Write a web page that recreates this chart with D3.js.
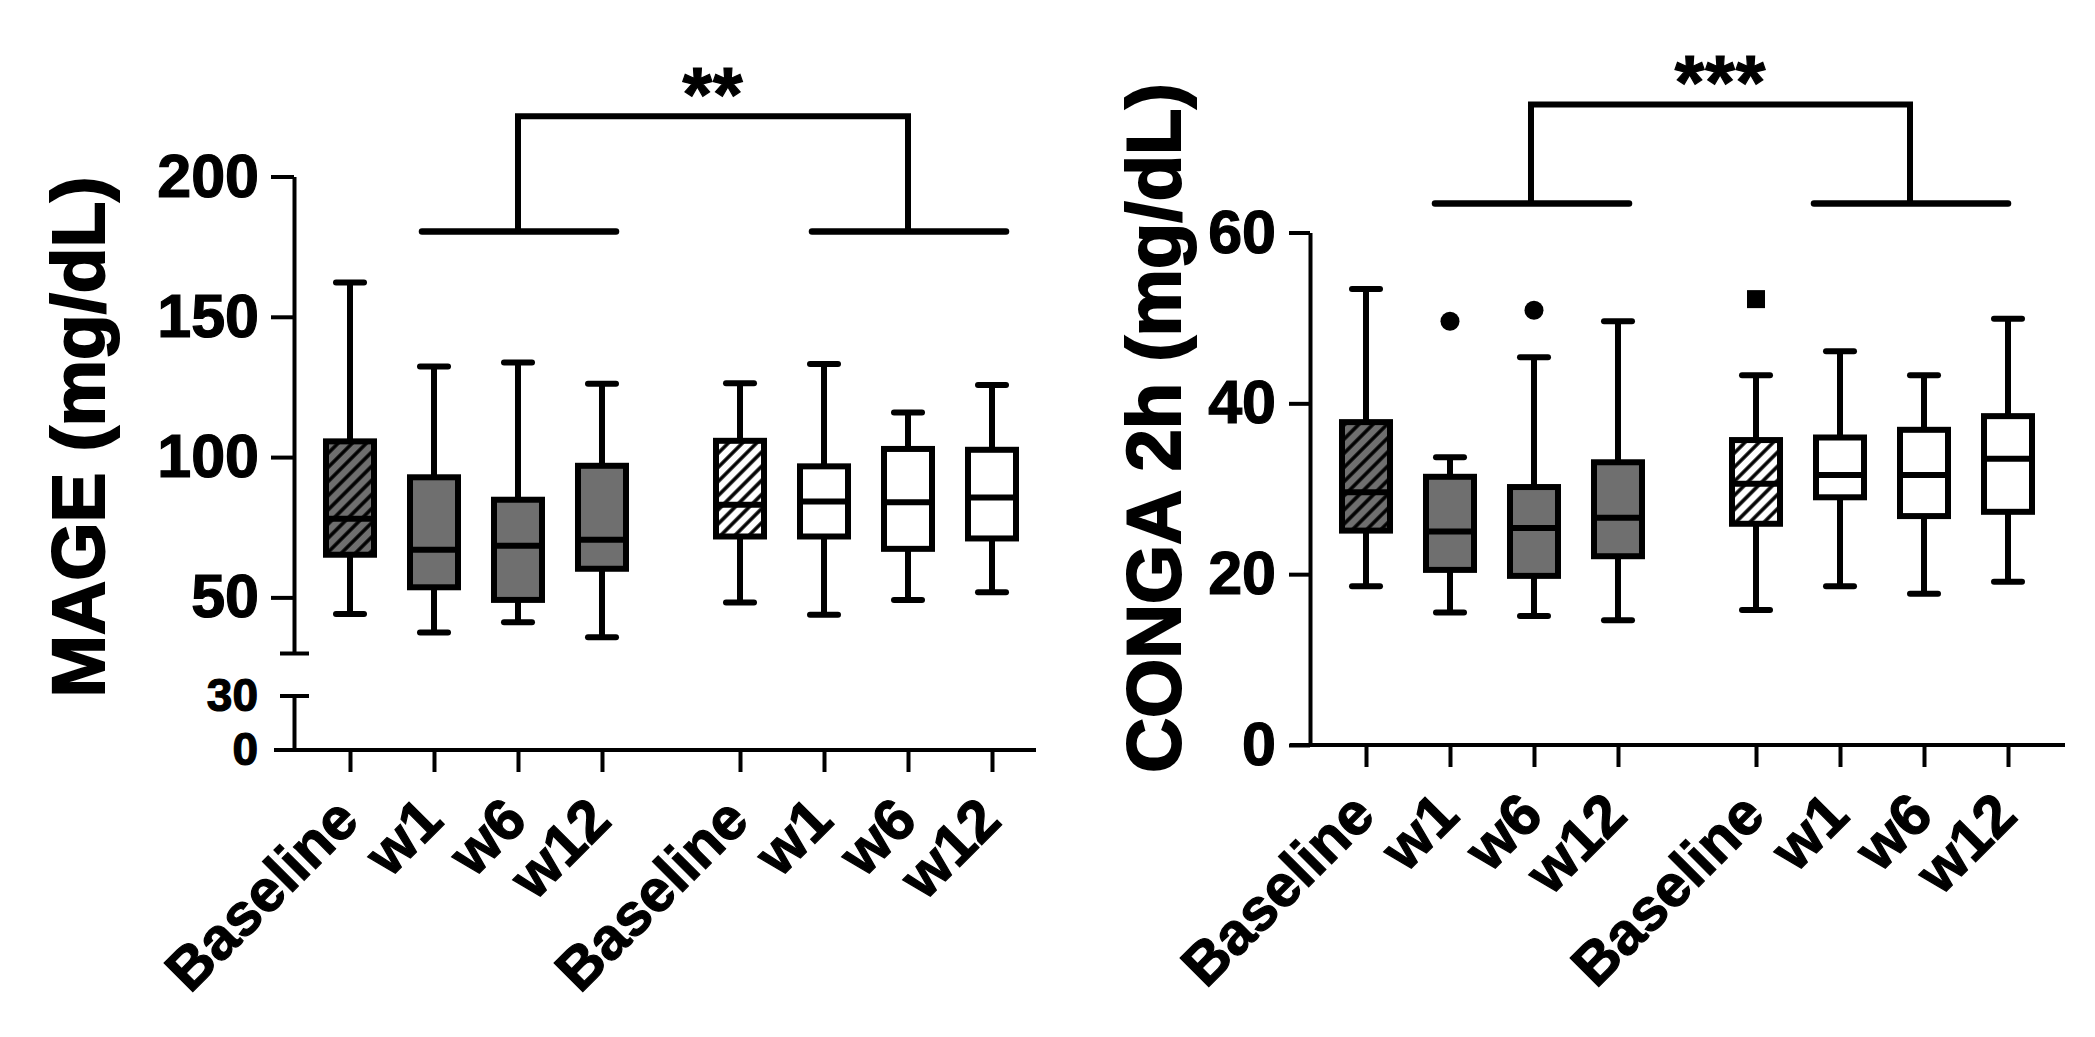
<!DOCTYPE html>
<html>
<head>
<meta charset="utf-8">
<script src="https://cdn.jsdelivr.net/npm/d3@7"></script>
<style>
  html, body { margin: 0; padding: 0; background: #fff; }
  text { font-family: "Liberation Sans", Arial, Helvetica, sans-serif; font-weight: bold; fill: #000; stroke: #000; stroke-width: 1.2px; }
</style>
</head>
<body>
<svg id="chart" width="2095" height="1037"></svg>
<script>
// Data
var timepoints = ["Baseline", "w1", "w6", "w12"];
var arms = ["armA", "armB"];

// MAGE (mg/dL) box stats, order: armA x4, armB x4
var mageLow  = [44.1, 37.5, 41.1, 35.8, 48.2, 43.8, 49.1, 51.8];
var mageQ1   = [65.2, 53.6, 49.1, 60.2, 71.7, 71.7, 67.3, 71.0];
var mageMed  = [78.0, 67.0, 68.4, 70.5, 83.0, 84.2, 83.9, 85.6];
var mageQ3   = [105.6, 92.8, 84.8, 96.9, 105.8, 96.7, 102.9, 102.6];
var mageHigh = [162.2, 132.3, 133.7, 126.1, 126.3, 133.2, 115.9, 125.7];
var mageTicksUpper = [50, 100, 150, 200];
var mageTicksLower = [0, 30];

// CONGA 2h (mg/dL)
var congaLow  = [18.6, 15.5, 15.1, 14.6, 15.8, 18.6, 17.7, 19.1];
var congaQ1   = [25.1, 20.5, 19.8, 22.1, 25.9, 29.0, 26.8, 27.3];
var congaMed  = [29.6, 25.0, 25.4, 26.6, 30.6, 31.6, 31.6, 33.5];
var congaQ3   = [37.8, 31.4, 30.2, 33.1, 35.7, 36.0, 36.9, 38.5];
var congaHigh = [53.4, 33.7, 45.4, 49.6, 43.3, 46.1, 43.3, 49.9];
var congaOutliers = [
  {arm: "armA", tp: "w1", value: 49.6, shape: "circle"},
  {arm: "armA", tp: "w6", value: 50.9, shape: "circle"},
  {arm: "armB", tp: "Baseline", value: 52.2, shape: "square"}
];
var congaTicks = [0, 20, 40, 60];

var DARK = "#6f6f6f";

var svg = d3.select("#chart");

// hatch patterns
var defs = svg.append("defs");
function hatch(id, bg){
  var p = defs.append("pattern")
    .attr("id", id)
    .attr("patternUnits", "userSpaceOnUse")
    .attr("width", 10).attr("height", 10)
    .attr("patternTransform", "rotate(45)");
  p.append("rect").attr("width", 10).attr("height", 10).attr("fill", bg);
  p.append("line").attr("x1", 5).attr("x2", 5).attr("y1", 0).attr("y2", 10)
    .attr("stroke", "#000").attr("stroke-width", 3.5);
}
hatch("hatchDark", DARK);
hatch("hatchLight", "#fff");

function boxFill(i){
  if(i === 0) return "url(#hatchDark)";
  if(i === 4) return "url(#hatchLight)";
  return i < 4 ? DARK : "#fff";
}

function buildBoxes(low, q1, med, q3, high){
  var out = [];
  arms.forEach(function(a, ai){
    timepoints.forEach(function(t, ti){
      var i = ai * 4 + ti;
      out.push({arm: a, tp: t, i: i, low: low[i], q1: q1[i], med: med[i], q3: q3[i], high: high[i]});
    });
  });
  return out;
}

function styleAxis(g, fs){
  g.attr("font-size", null).attr("font-family", null);
  g.selectAll("path.domain").attr("stroke", "#000").attr("stroke-width", 4);
  g.selectAll(".tick line").attr("stroke", "#000").attr("stroke-width", 4);
  g.selectAll(".tick text").style("font-size", fs + "px");
}

function drawPanel(cfg){
  var g = svg.append("g");
  var y = cfg.y;

  var outer = d3.scaleBand().domain(arms).range(cfg.bandRange).paddingInner(0.1385).paddingOuter(0);
  var inner = d3.scalePoint().domain(timepoints).range([0, outer.bandwidth()]).padding(0.5);
  function xPos(arm, tp){ return outer(arm) + inner(tp); }

  // x axis
  g.append("line")
    .attr("x1", cfg.axisX - 20).attr("x2", cfg.plotEnd)
    .attr("y1", cfg.baseY).attr("y2", cfg.baseY)
    .attr("stroke", "#000").attr("stroke-width", 4);

  arms.forEach(function(a){
    var ax = g.append("g")
      .attr("transform", "translate(" + outer(a) + "," + cfg.baseY + ")")
      .call(d3.axisBottom(inner).tickSize(22).tickSizeOuter(0));
    ax.select("path.domain").remove();
    styleAxis(ax, 59);
    ax.selectAll(".tick text")
      .attr("x", null).attr("y", null).attr("dy", null)
      .attr("text-anchor", "end")
      .attr("transform", "translate(11,73) rotate(-45)");
  });

  // y axis
  cfg.drawY(g);

  // y title
  g.append("text")
    .attr("transform", "translate(" + cfg.titleX + "," + cfg.titleY + ") rotate(-90)")
    .attr("text-anchor", "middle")
    .style("font-size", cfg.titleSize + "px")
    .style("stroke-width", "2px")
    .text(cfg.title);

  // boxes
  var boxW = 48, capW = 28;
  var boxes = g.selectAll("g.box").data(cfg.boxes).enter().append("g").attr("class", "box")
    .attr("transform", function(d){ return "translate(" + xPos(d.arm, d.tp) + ",0)"; });

  boxes.append("line")
    .attr("x1", 0).attr("x2", 0)
    .attr("y1", function(d){ return y(d.high); })
    .attr("y2", function(d){ return y(d.low); })
    .attr("stroke", "#000").attr("stroke-width", 6);
  boxes.selectAll("line.cap").data(function(d){ return [d.high, d.low]; }).enter()
    .append("line").attr("class", "cap")
    .attr("x1", -capW / 2).attr("x2", capW / 2)
    .attr("y1", function(v){ return y(v); }).attr("y2", function(v){ return y(v); })
    .attr("stroke", "#000").attr("stroke-width", 6).attr("stroke-linecap", "round");
  boxes.append("rect")
    .attr("x", -boxW / 2).attr("width", boxW)
    .attr("y", function(d){ return y(d.q3); })
    .attr("height", function(d){ return y(d.q1) - y(d.q3); })
    .attr("fill", function(d){ return boxFill(d.i); })
    .attr("stroke", "#000").attr("stroke-width", 6);
  boxes.append("line")
    .attr("x1", -boxW / 2).attr("x2", boxW / 2)
    .attr("y1", function(d){ return y(d.med); }).attr("y2", function(d){ return y(d.med); })
    .attr("stroke", "#000").attr("stroke-width", 6);

  // outliers
  var outs = g.selectAll("g.out").data(cfg.outliers || []).enter().append("g");
  outs.filter(function(d){ return d.shape === "circle"; }).append("circle")
    .attr("cx", function(d){ return xPos(d.arm, d.tp); })
    .attr("cy", function(d){ return y(d.value); })
    .attr("r", 9.5).attr("fill", "#000");
  outs.filter(function(d){ return d.shape === "square"; }).append("rect")
    .attr("x", function(d){ return xPos(d.arm, d.tp) - 9; })
    .attr("y", function(d){ return y(d.value) - 9; })
    .attr("width", 18).attr("height", 18).attr("fill", "#000");

  // significance bracket
  var barY = y(cfg.sigBar), topY = y(cfg.sigTop);
  var shift = cfg.bracketShift || [0, 0];
  var mids = arms.map(function(a, ai){ return xPos(a, "w6") + shift[ai]; });
  arms.forEach(function(a, ai){
    g.append("line")
      .attr("x1", xPos(a, "w1") - 12 + shift[ai]).attr("x2", xPos(a, "w12") + 14 + shift[ai])
      .attr("y1", barY).attr("y2", barY)
      .attr("stroke", "#000").attr("stroke-width", 6.5).attr("stroke-linecap", "round");
  });
  g.append("path")
    .attr("d", "M" + mids[0] + "," + barY + "V" + topY + "H" + mids[1] + "V" + barY)
    .attr("fill", "none").attr("stroke", "#000").attr("stroke-width", 6);
  g.append("text")
    .attr("x", (mids[0] + mids[1]) / 2)
    .attr("y", topY + 4)
    .attr("text-anchor", "middle")
    .style("font-size", "76px")
    .style("letter-spacing", "1px")
    .text(cfg.stars);
}

// MAGE panel with broken axis
var mageUpper = d3.scaleLinear().domain([30, 200]).range([653.5, 176.5]);
var mageLower = d3.scaleLinear().domain([0, 30]).range([750, 696]);

drawPanel({
  y: mageUpper,
  axisX: 294, plotEnd: 1036, baseY: 750, bandRange: [308, 1034],
  title: "MAGE (mg/dL)", titleX: 104, titleY: 437, titleSize: 75,
  boxes: buildBoxes(mageLow, mageQ1, mageMed, mageQ3, mageHigh),
  sigBar: 180.4, sigTop: 221.5, stars: "**",
  drawY: function(g){
    var up = g.append("g").attr("transform", "translate(294,0)")
      .call(d3.axisLeft(mageUpper).tickValues(mageTicksUpper).tickSize(23).tickSizeOuter(0).tickPadding(12));
    styleAxis(up, 61);
    var lo = g.append("g").attr("transform", "translate(294,0)")
      .call(d3.axisLeft(mageLower).tickValues(mageTicksLower).tickSize(0).tickSizeOuter(0).tickPadding(36));
    styleAxis(lo, 46);
    // break caps
    [mageUpper(30), mageLower(30)].forEach(function(yy){
      g.append("line").attr("x1", 280).attr("x2", 309).attr("y1", yy).attr("y2", yy)
        .attr("stroke", "#000").attr("stroke-width", 4);
    });
  }
});

var congaY = d3.scaleLinear().domain([0, 60]).range([745, 232.5]);

drawPanel({
  y: congaY,
  axisX: 1310, plotEnd: 2065, baseY: 745, bandRange: [1324, 2050],
  title: "CONGA 2h (mg/dL)", titleX: 1180, titleY: 428, titleSize: 76,
  boxes: buildBoxes(congaLow, congaQ1, congaMed, congaQ3, congaHigh),
  outliers: congaOutliers,
  sigBar: 63.4, sigTop: 75, stars: "***", bracketShift: [-3, -14],
  drawY: function(g){
    var ax = g.append("g").attr("transform", "translate(1310,0)")
      .call(d3.axisLeft(congaY).tickValues(congaTicks).tickSize(21).tickSizeOuter(0).tickPadding(13));
    styleAxis(ax, 61);
  }
});
</script>
</body>
</html>
